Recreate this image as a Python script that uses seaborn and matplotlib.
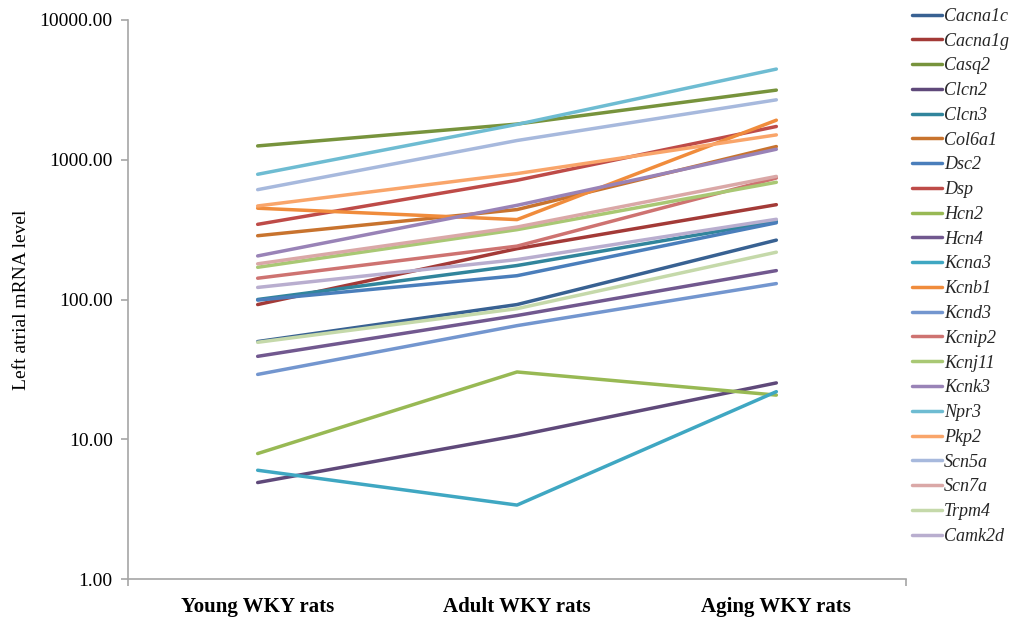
import matplotlib
matplotlib.use("Agg")
import matplotlib.pyplot as plt
import matplotlib.ticker as mticker
import pandas as pd
import seaborn as sns

# Age groups on the x axis
groups = ["Young WKY rats", "Adult WKY rats", "Aging WKY rats"]

# Gene names, in legend order
genes = ["Cacna1c", "Cacna1g", "Casq2", "Clcn2", "Clcn3", "Col6a1", "Dsc2", "Dsp",
         "Hcn2", "Hcn4", "Kcna3", "Kcnb1", "Kcnd3", "Kcnip2", "Kcnj11", "Kcnk3",
         "Npr3", "Pkp2", "Scn5a", "Scn7a", "Trpm4", "Camk2d"]

# Left atrial mRNA level per gene: young, adult, aging
Cacna1c = [50, 92, 266]
Cacna1g = [92, 231, 477]
Casq2 = [1256, 1800, 3150]
Clcn2 = [4.9, 10.6, 25.3]
Clcn3 = [100, 175, 362]
Col6a1 = [286, 440, 1243]
Dsc2 = [99, 148, 354]
Dsp = [345, 713, 1730]
Hcn2 = [7.9, 30.3, 20.7]
Hcn4 = [39.2, 76.8, 161]
Kcna3 = [6.0, 3.38, 21.9]
Kcnb1 = [450, 373, 1919]
Kcnd3 = [29.1, 65, 130]
Kcnip2 = [142, 241, 740]
Kcnj11 = [170, 316, 690]
Kcnk3 = [205, 472, 1189]
Npr3 = [787, 1790, 4455]
Pkp2 = [467, 796, 1506]
Scn5a = [611, 1373, 2684]
Scn7a = [180, 330, 760]
Trpm4 = [49.4, 86, 218]
Camk2d = [122, 193, 375]

series = [Cacna1c, Cacna1g, Casq2, Clcn2, Clcn3, Col6a1, Dsc2, Dsp, Hcn2, Hcn4,
          Kcna3, Kcnb1, Kcnd3, Kcnip2, Kcnj11, Kcnk3, Npr3, Pkp2, Scn5a, Scn7a,
          Trpm4, Camk2d]

colors = ["#386192", "#A33A37", "#77933C", "#5F497A", "#31859C", "#C8732E",
          "#4A7EBB", "#BE4B48", "#98B954", "#71588F", "#3FA7C2", "#F08C3C",
          "#7396CF", "#CE7371", "#A9C874", "#9983B7", "#6EBCD2", "#F9A56A",
          "#A7B9DD", "#DAA8A7", "#C5D9AA", "#B9AECF"]

rows = []
for g, vals in zip(genes, series):
    for grp, v in zip(groups, vals):
        rows.append({"group": grp, "gene": g, "level": v})
df = pd.DataFrame(rows)

sns.set_theme(style="white")
plt.rcParams["font.family"] = ["Liberation Serif", "DejaVu Serif"]

fig = plt.figure(figsize=(10.13, 6.17), dpi=100)
ax = fig.add_axes([128 / 1013, 1 - 579 / 617, (906 - 128) / 1013, (579 - 20) / 617])

sns.lineplot(data=df, x="group", y="level", hue="gene", hue_order=genes,
             palette=dict(zip(genes, colors)), linewidth=2.5, ax=ax, legend=True,
             sort=False)

ax.set_yscale("log")
ax.set_ylim(1, 10000)
ax.set_xlim(-0.5, 2.5)
ax.yaxis.set_major_locator(mticker.FixedLocator([1, 10, 100, 1000, 10000]))
ax.yaxis.set_minor_locator(mticker.NullLocator())
ax.yaxis.set_major_formatter(mticker.FuncFormatter(lambda v, p: f"{v:.2f}"))

axis_gray = "#A6A6A6"
for side in ("top", "right"):
    ax.spines[side].set_visible(False)
for side in ("left", "bottom"):
    ax.spines[side].set_color(axis_gray)
    ax.spines[side].set_linewidth(1.2)

ax.tick_params(axis="y", which="major", left=True, length=5, width=1.2,
               color=axis_gray, labelsize=14, labelcolor="black", pad=6)
ax.tick_params(axis="x", which="major", bottom=False, labelsize=15,
               labelcolor="black", pad=7)
for lab in ax.get_xticklabels():
    lab.set_fontweight("bold")

# tick marks at both ends of the category axis
ax.set_xticks([-0.5, 2.5], minor=True)
ax.tick_params(axis="x", which="minor", bottom=True, length=5, width=1.2,
               color=axis_gray)

ax.set_xlabel("")
ax.set_ylabel("Left atrial mRNA level", fontsize=14, color="black", labelpad=7)

handles, labels = ax.get_legend_handles_labels()
ax.legend_.remove()
fig.legend(handles, labels, loc="upper left", bbox_to_anchor=(0.893, 0.999),
           frameon=False, prop={"family": "Liberation Serif", "style": "italic",
                                "size": 13},
           handlelength=1.65, handletextpad=0.12, labelspacing=0.43,
           borderaxespad=0)

fig.savefig("out.png", dpi=100)
